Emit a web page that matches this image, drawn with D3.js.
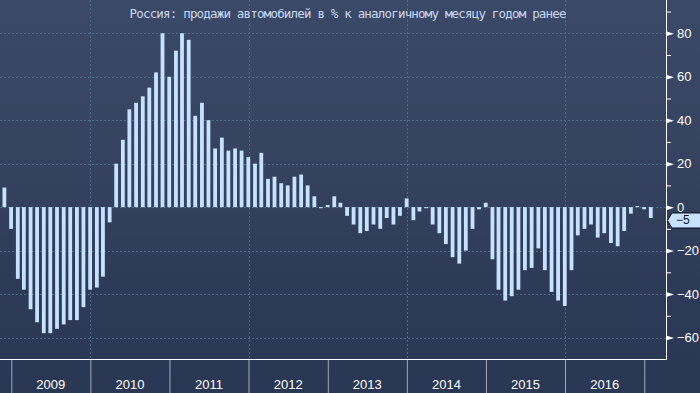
<!DOCTYPE html>
<html>
<head>
<meta charset="utf-8">
<script src="https://cdn.jsdelivr.net/npm/d3@7"></script>
<style>
    body { margin: 0; background: #2b3956; }
    svg { display: block; font-family: "Liberation Sans", sans-serif; }
</style>
</head>
<body>
<div id="chart"></div>
<script>
const TITLE = "Россия: продажи автомобилей в % к аналогичному месяцу годом ранее";

// monthly values, Nov 2008 .. Jan 2017 (plotted at month end)
const firstMonth = new Date(2008, 10, 1);
const salesChange = [
    9,
    -10, -33, -38, -47, -53, -58, -58, -56, -54, -52, -52, -46,
    -38, -37, -32, -7, 20, 31, 45, 48, 51, 55, 62, 80,
    60, 72, 80, 77, 42, 48, 40, 27, 32, 26, 27, 26,
    23, 20, 25, 13, 14, 11, 10, 14, 15, 10, 5, -0.5,
    1, 5, 2, -4, -8, -12, -11, -8, -10, -5, -8, -4,
    4, -6, -2, -0.5, -8, -12, -17, -23, -26, -20, -10, -1,
    2, -24, -38, -43, -41, -38, -29, -28, -19, -29, -39, -43,
    -45.5, -29, -13, -10, -8, -14, -12, -16.5, -18, -11, -3, 0.5,
    -1, -5
];

const yTicks = [-60, -40, -20, 0, 20, 40, 60, 80];
const yMinorTicks = [-50, -30, -10, 10, 30, 50, 70, 90];
const yearLabels = [2009, 2010, 2011, 2012, 2013, 2014, 2015, 2016];
const gridYears = [2010, 2012, 2014, 2016];

const WIDTH = 700;
const HEIGHT = 393;
const PLOT_RIGHT = 666;
const PLOT_BOTTOM = 359;
const BAR_WIDTH = 3.8;

const data = salesChange.map((v, i) => ({
    date: d3.timeDay.offset(d3.timeMonth.offset(firstMonth, i + 1), -1),
    value: v
}));

const xScale = d3.scaleTime()
    .domain([new Date(2009, 0, 1), new Date(2017, 0, 1)])
    .range([11.3, 644.3]);

const yScale = d3.scaleLinear()
    .domain([-60, 80])
    .range([337.5, 33.3]);

const svg = d3.select("#chart").append("svg")
    .attr("width", WIDTH)
    .attr("height", HEIGHT)
    .attr("viewBox", `0 0 ${WIDTH} ${HEIGHT}`);

// background
const grad = svg.append("defs").append("linearGradient")
    .attr("id", "bg")
    .attr("x1", 0).attr("x2", 0).attr("y1", 0).attr("y2", 1);
grad.append("stop").attr("offset", 0).attr("stop-color", "#3b4968");
grad.append("stop").attr("offset", 0.35).attr("stop-color", "#364462");
grad.append("stop").attr("offset", 0.7).attr("stop-color", "#2e3b58");
grad.append("stop").attr("offset", 1).attr("stop-color", "#2a3754");

svg.append("rect")
    .attr("width", WIDTH)
    .attr("height", HEIGHT)
    .attr("fill", "url(#bg)");

// grid
svg.append("g")
    .selectAll("line")
    .data(yTicks)
    .join("line")
    .attr("x1", 0)
    .attr("x2", PLOT_RIGHT)
    .attr("y1", d => Math.round(yScale(d)) + 0.5)
    .attr("y2", d => Math.round(yScale(d)) + 0.5)
    .attr("stroke", "#4d6d8a")
    .attr("stroke-dasharray", "2,2");

svg.append("g")
    .selectAll("line")
    .data(gridYears)
    .join("line")
    .attr("x1", d => Math.round(xScale(new Date(d, 0, 1))) + 0.5)
    .attr("x2", d => Math.round(xScale(new Date(d, 0, 1))) + 0.5)
    .attr("y1", 0)
    .attr("y2", PLOT_BOTTOM)
    .attr("stroke", "#4d6d8a")
    .attr("stroke-dasharray", "2,2");

// bars
svg.append("g")
    .selectAll("rect")
    .data(data)
    .join("rect")
    .attr("x", d => xScale(d.date) - BAR_WIDTH / 2)
    .attr("width", BAR_WIDTH)
    .attr("y", d => Math.min(yScale(d.value), yScale(0)))
    .attr("height", d => Math.abs(yScale(d.value) - yScale(0)))
    .attr("fill", "#c6e2ff");

// title
svg.append("text")
    .attr("x", 348)
    .attr("y", 18)
    .attr("text-anchor", "middle")
    .attr("fill", "#c8d8f0")
    .style("font-family", "'DejaVu Sans Mono', monospace")
    .style("font-size", "12.5px")
    .attr("textLength", 437)
    .text(TITLE);

// right axis
const yAxis = svg.append("g")
    .attr("transform", `translate(${PLOT_RIGHT},0)`)
    .call(d3.axisRight(yScale)
        .tickValues(yTicks)
        .tickSize(0)
        .tickPadding(11)
        .tickFormat(d3.format("d")));
yAxis.select(".domain").remove();
yAxis.selectAll("text")
    .attr("fill", "#ffffff")
    .style("font-size", "13px");
yAxis.selectAll(".tick")
    .append("path")
    .attr("d", "M0,-2.5L8,0L0,2.5Z")
    .attr("fill", "#ffffff");

const yMinor = svg.append("g")
    .attr("transform", `translate(${PLOT_RIGHT},0)`)
    .call(d3.axisRight(yScale)
        .tickValues(yMinorTicks)
        .tickSize(5)
        .tickFormat(""));
yMinor.select(".domain").remove();
yMinor.selectAll("line").attr("stroke", "#ffffff");

svg.append("line")
    .attr("x1", PLOT_RIGHT + 0.5)
    .attr("x2", PLOT_RIGHT + 0.5)
    .attr("y1", 0)
    .attr("y2", PLOT_BOTTOM + 0.5)
    .attr("stroke", "#ffffff");

// bottom axis
const xAxis = svg.append("g")
    .attr("transform", `translate(0,${PLOT_BOTTOM})`)
    .call(d3.axisBottom(xScale)
        .ticks(d3.timeYear)
        .tickSize(HEIGHT - PLOT_BOTTOM)
        .tickFormat(""));
xAxis.select(".domain").remove();
xAxis.selectAll("line").attr("stroke", "#a3a8b8");

svg.append("line")
    .attr("x1", 0)
    .attr("x2", PLOT_RIGHT + 0.5)
    .attr("y1", PLOT_BOTTOM + 0.5)
    .attr("y2", PLOT_BOTTOM + 0.5)
    .attr("stroke", "#ffffff");

svg.append("g")
    .selectAll("text")
    .data(yearLabels)
    .join("text")
    .attr("x", d => (xScale(new Date(d, 0, 1)) + xScale(new Date(d + 1, 0, 1))) / 2)
    .attr("y", 389)
    .attr("text-anchor", "middle")
    .attr("fill", "#ffffff")
    .style("font-size", "13px")
    .text(d => d);

// last value callout
const last = data[data.length - 1];
const cy = yScale(last.value) + 2.5;
const callout = svg.append("g");
callout.append("path")
    .attr("d", `M${PLOT_RIGHT + 1.5},${cy}L${PLOT_RIGHT + 6},${cy - 7.5}L${WIDTH + 2},${cy - 7.5}L${WIDTH + 2},${cy + 7.5}L${PLOT_RIGHT + 6},${cy + 7.5}Z`)
    .attr("fill", "#c6e2ff")
    .attr("stroke", "#10131c");
callout.append("text")
    .attr("x", PLOT_RIGHT + 10)
    .attr("y", cy + 4)
    .attr("fill", "#111522")
    .style("font-size", "12px")
    .text(d3.format("d")(last.value));
</script>
</body>
</html>
